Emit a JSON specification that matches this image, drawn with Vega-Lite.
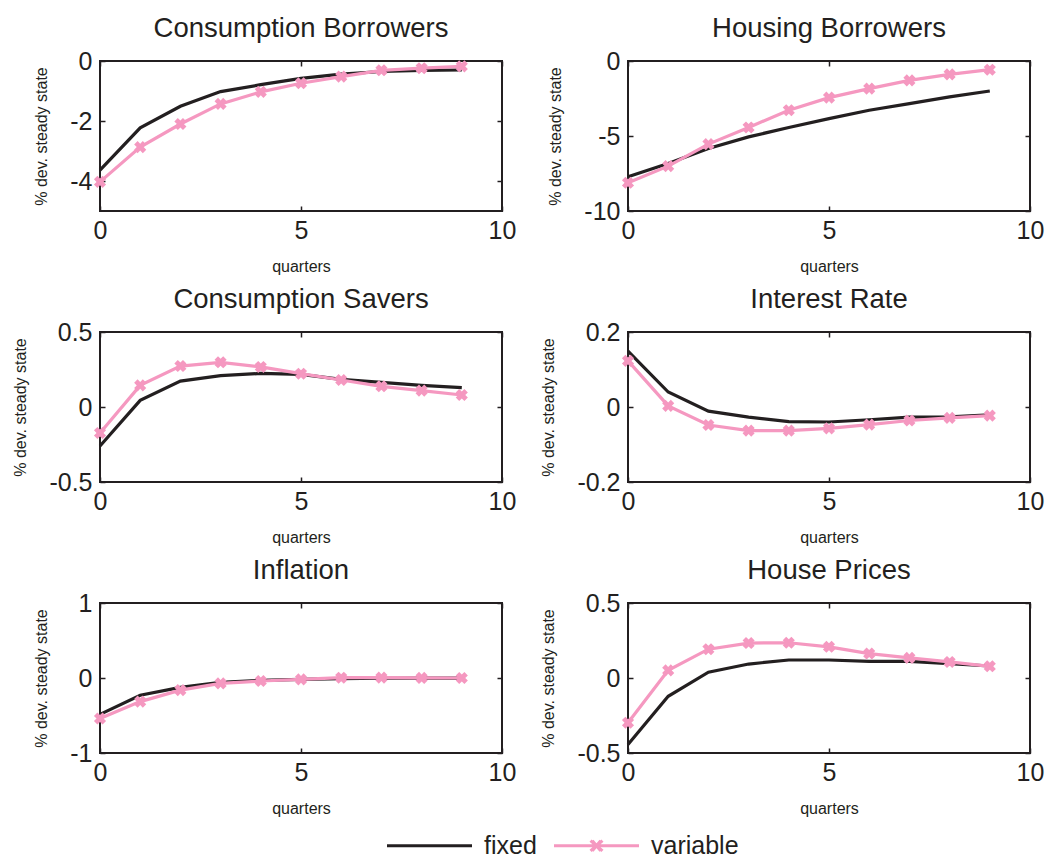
{
  "$schema": "https://vega.github.io/schema/vega-lite/v6.json",
  "padding": {"left": 11, "top": 13, "right": 0, "bottom": 0},
  "background": "white",
  "data": {"values": [
    {"p":"cb","s":"fixed","q":0,"v":-3.64},{"p":"cb","s":"fixed","q":1,"v":-2.23},{"p":"cb","s":"fixed","q":2,"v":-1.51},{"p":"cb","s":"fixed","q":3,"v":-1.02},{"p":"cb","s":"fixed","q":4,"v":-0.79},{"p":"cb","s":"fixed","q":5,"v":-0.58},{"p":"cb","s":"fixed","q":6,"v":-0.44},{"p":"cb","s":"fixed","q":7,"v":-0.35},{"p":"cb","s":"fixed","q":8,"v":-0.31},{"p":"cb","s":"fixed","q":9,"v":-0.30},
    {"p":"cb","s":"variable","q":0,"v":-4.03},{"p":"cb","s":"variable","q":1,"v":-2.87},{"p":"cb","s":"variable","q":2,"v":-2.10},{"p":"cb","s":"variable","q":3,"v":-1.43},{"p":"cb","s":"variable","q":4,"v":-1.03},{"p":"cb","s":"variable","q":5,"v":-0.74},{"p":"cb","s":"variable","q":6,"v":-0.52},{"p":"cb","s":"variable","q":7,"v":-0.31},{"p":"cb","s":"variable","q":8,"v":-0.24},{"p":"cb","s":"variable","q":9,"v":-0.18},
    {"p":"hb","s":"fixed","q":0,"v":-7.72},{"p":"hb","s":"fixed","q":1,"v":-6.83},{"p":"hb","s":"fixed","q":2,"v":-5.83},{"p":"hb","s":"fixed","q":3,"v":-5.06},{"p":"hb","s":"fixed","q":4,"v":-4.43},{"p":"hb","s":"fixed","q":5,"v":-3.84},{"p":"hb","s":"fixed","q":6,"v":-3.28},{"p":"hb","s":"fixed","q":7,"v":-2.84},{"p":"hb","s":"fixed","q":8,"v":-2.39},{"p":"hb","s":"fixed","q":9,"v":-2.00},
    {"p":"hb","s":"variable","q":0,"v":-8.12},{"p":"hb","s":"variable","q":1,"v":-7.01},{"p":"hb","s":"variable","q":2,"v":-5.54},{"p":"hb","s":"variable","q":3,"v":-4.43},{"p":"hb","s":"variable","q":4,"v":-3.28},{"p":"hb","s":"variable","q":5,"v":-2.44},{"p":"hb","s":"variable","q":6,"v":-1.84},{"p":"hb","s":"variable","q":7,"v":-1.29},{"p":"hb","s":"variable","q":8,"v":-0.89},{"p":"hb","s":"variable","q":9,"v":-0.58},
    {"p":"cs","s":"fixed","q":0,"v":-0.26},{"p":"cs","s":"fixed","q":1,"v":0.044},{"p":"cs","s":"fixed","q":2,"v":0.173},{"p":"cs","s":"fixed","q":3,"v":0.209},{"p":"cs","s":"fixed","q":4,"v":0.224},{"p":"cs","s":"fixed","q":5,"v":0.218},{"p":"cs","s":"fixed","q":6,"v":0.184},{"p":"cs","s":"fixed","q":7,"v":0.164},{"p":"cs","s":"fixed","q":8,"v":0.144},{"p":"cs","s":"fixed","q":9,"v":0.129},
    {"p":"cs","s":"variable","q":0,"v":-0.173},{"p":"cs","s":"variable","q":1,"v":0.144},{"p":"cs","s":"variable","q":2,"v":0.273},{"p":"cs","s":"variable","q":3,"v":0.298},{"p":"cs","s":"variable","q":4,"v":0.267},{"p":"cs","s":"variable","q":5,"v":0.222},{"p":"cs","s":"variable","q":6,"v":0.18},{"p":"cs","s":"variable","q":7,"v":0.138},{"p":"cs","s":"variable","q":8,"v":0.109},{"p":"cs","s":"variable","q":9,"v":0.08},
    {"p":"ir","s":"fixed","q":0,"v":0.149},{"p":"ir","s":"fixed","q":1,"v":0.040},{"p":"ir","s":"fixed","q":2,"v":-0.011},{"p":"ir","s":"fixed","q":3,"v":-0.027},{"p":"ir","s":"fixed","q":4,"v":-0.039},{"p":"ir","s":"fixed","q":5,"v":-0.040},{"p":"ir","s":"fixed","q":6,"v":-0.034},{"p":"ir","s":"fixed","q":7,"v":-0.027},{"p":"ir","s":"fixed","q":8,"v":-0.026},{"p":"ir","s":"fixed","q":9,"v":-0.021},
    {"p":"ir","s":"variable","q":0,"v":0.123},{"p":"ir","s":"variable","q":1,"v":0.003},{"p":"ir","s":"variable","q":2,"v":-0.048},{"p":"ir","s":"variable","q":3,"v":-0.063},{"p":"ir","s":"variable","q":4,"v":-0.063},{"p":"ir","s":"variable","q":5,"v":-0.057},{"p":"ir","s":"variable","q":6,"v":-0.047},{"p":"ir","s":"variable","q":7,"v":-0.036},{"p":"ir","s":"variable","q":8,"v":-0.029},{"p":"ir","s":"variable","q":9,"v":-0.023},
    {"p":"in","s":"fixed","q":0,"v":-0.485},{"p":"in","s":"fixed","q":1,"v":-0.23},{"p":"in","s":"fixed","q":2,"v":-0.126},{"p":"in","s":"fixed","q":3,"v":-0.058},{"p":"in","s":"fixed","q":4,"v":-0.031},{"p":"in","s":"fixed","q":5,"v":-0.018},{"p":"in","s":"fixed","q":6,"v":-0.009},{"p":"in","s":"fixed","q":7,"v":-0.003},{"p":"in","s":"fixed","q":8,"v":-0.002},{"p":"in","s":"fixed","q":9,"v":-0.001},
    {"p":"in","s":"variable","q":0,"v":-0.54},{"p":"in","s":"variable","q":1,"v":-0.315},{"p":"in","s":"variable","q":2,"v":-0.162},{"p":"in","s":"variable","q":3,"v":-0.072},{"p":"in","s":"variable","q":4,"v":-0.04},{"p":"in","s":"variable","q":5,"v":-0.018},{"p":"in","s":"variable","q":6,"v":0.004},{"p":"in","s":"variable","q":7,"v":0.005},{"p":"in","s":"variable","q":8,"v":0.001},{"p":"in","s":"variable","q":9,"v":0.0},
    {"p":"hp","s":"fixed","q":0,"v":-0.444},{"p":"hp","s":"fixed","q":1,"v":-0.122},{"p":"hp","s":"fixed","q":2,"v":0.039},{"p":"hp","s":"fixed","q":3,"v":0.093},{"p":"hp","s":"fixed","q":4,"v":0.12},{"p":"hp","s":"fixed","q":5,"v":0.12},{"p":"hp","s":"fixed","q":6,"v":0.111},{"p":"hp","s":"fixed","q":7,"v":0.111},{"p":"hp","s":"fixed","q":8,"v":0.096},{"p":"hp","s":"fixed","q":9,"v":0.08},
    {"p":"hp","s":"variable","q":0,"v":-0.298},{"p":"hp","s":"variable","q":1,"v":0.051},{"p":"hp","s":"variable","q":2,"v":0.192},{"p":"hp","s":"variable","q":3,"v":0.233},{"p":"hp","s":"variable","q":4,"v":0.235},{"p":"hp","s":"variable","q":5,"v":0.208},{"p":"hp","s":"variable","q":6,"v":0.163},{"p":"hp","s":"variable","q":7,"v":0.134},{"p":"hp","s":"variable","q":8,"v":0.107},{"p":"hp","s":"variable","q":9,"v":0.078}
  ]},
  "columns": 2,
  "spacing": {"row": 9, "column": 22},
  "concat": [
    {
      "title": "Consumption Borrowers", "width": 402, "height": 150,
      "transform": [{"filter": "datum.p === 'cb'"}],
      "layer": [
        {"mark": {"type": "line", "strokeWidth": 3.2},
         "encoding": {
           "x": {"field": "q", "type": "quantitative", "scale": {"domain": [0, 10]}, "axis": {"values": [0, 5, 10], "title": "quarters"}},
           "y": {"field": "v", "type": "quantitative", "scale": {"domain": [-5, 0]}, "axis": {"values": [-4, -2, 0], "title": "% dev. steady state"}},
           "color": {"field": "s", "type": "nominal", "scale": {"domain": ["fixed", "variable"], "range": ["#231f20", "#f598c0"]},
             "legend": {"orient": "none", "legendX": 285, "legendY": 740, "direction": "horizontal", "title": null, "padding": 0, "labelFontSize": 25, "labelFont": "Liberation Sans", "labelColor": "#231f20", "symbolStrokeWidth": 3.2, "symbolSize": 7225, "labelOffset": 10, "columnPadding": 10, "symbolType": "stroke",
               "encode": {"symbols": {"update": {"shape": {"signal": "datum.value === 'variable' ? 'M-1,0H1M-0.14,-0.12L0.14,0.12M-0.14,0.12L0.14,-0.12M-0.1,-0.12L0.1,0.12M-0.1,0.12L0.1,-0.12' : 'M-1,0H1'"}}}}}}
         }},
        {"transform": [{"filter": "datum.s === 'variable'"}],
         "mark": {"type": "point", "shape": "cross", "angle": 45, "filled": true, "size": 150, "color": "#f598c0", "opacity": 1},
         "encoding": {
           "x": {"field": "q", "type": "quantitative", "scale": {"domain": [0, 10]}, "axis": {"orient": "top", "values": [0, 5, 10], "labels": false, "title": null}},
           "y": {"field": "v", "type": "quantitative", "scale": {"domain": [-5, 0]}, "axis": {"orient": "right", "values": [-4, -2, 0], "labels": false, "title": null}}
         }}
      ],
      "resolve": {"axis": {"x": "independent", "y": "independent"}}
    },
    {
      "title": "Housing Borrowers", "width": 402, "height": 150,
      "transform": [{"filter": "datum.p === 'hb'"}],
      "layer": [
        {"mark": {"type": "line", "strokeWidth": 3.2},
         "encoding": {
           "x": {"field": "q", "type": "quantitative", "scale": {"domain": [0, 10]}, "axis": {"values": [0, 5, 10], "title": "quarters"}},
           "y": {"field": "v", "type": "quantitative", "scale": {"domain": [-10, 0]}, "axis": {"values": [-10, -5, 0], "title": "% dev. steady state"}},
           "color": {"field": "s", "type": "nominal"}
         }},
        {"transform": [{"filter": "datum.s === 'variable'"}],
         "mark": {"type": "point", "shape": "cross", "angle": 45, "filled": true, "size": 150, "color": "#f598c0", "opacity": 1},
         "encoding": {
           "x": {"field": "q", "type": "quantitative", "scale": {"domain": [0, 10]}, "axis": {"orient": "top", "values": [0, 5, 10], "labels": false, "title": null}},
           "y": {"field": "v", "type": "quantitative", "scale": {"domain": [-10, 0]}, "axis": {"orient": "right", "values": [-10, -5, 0], "labels": false, "title": null}}
         }}
      ],
      "resolve": {"axis": {"x": "independent", "y": "independent"}}
    },
    {
      "title": "Consumption Savers", "width": 402, "height": 150,
      "transform": [{"filter": "datum.p === 'cs'"}],
      "layer": [
        {"mark": {"type": "line", "strokeWidth": 3.2},
         "encoding": {
           "x": {"field": "q", "type": "quantitative", "scale": {"domain": [0, 10]}, "axis": {"values": [0, 5, 10], "title": "quarters"}},
           "y": {"field": "v", "type": "quantitative", "scale": {"domain": [-0.5, 0.5]}, "axis": {"values": [-0.5, 0, 0.5], "title": "% dev. steady state"}},
           "color": {"field": "s", "type": "nominal"}
         }},
        {"transform": [{"filter": "datum.s === 'variable'"}],
         "mark": {"type": "point", "shape": "cross", "angle": 45, "filled": true, "size": 150, "color": "#f598c0", "opacity": 1},
         "encoding": {
           "x": {"field": "q", "type": "quantitative", "scale": {"domain": [0, 10]}, "axis": {"orient": "top", "values": [0, 5, 10], "labels": false, "title": null}},
           "y": {"field": "v", "type": "quantitative", "scale": {"domain": [-0.5, 0.5]}, "axis": {"orient": "right", "values": [-0.5, 0, 0.5], "labels": false, "title": null}}
         }}
      ],
      "resolve": {"axis": {"x": "independent", "y": "independent"}}
    },
    {
      "title": "Interest Rate", "width": 402, "height": 150,
      "transform": [{"filter": "datum.p === 'ir'"}],
      "layer": [
        {"mark": {"type": "line", "strokeWidth": 3.2},
         "encoding": {
           "x": {"field": "q", "type": "quantitative", "scale": {"domain": [0, 10]}, "axis": {"values": [0, 5, 10], "title": "quarters"}},
           "y": {"field": "v", "type": "quantitative", "scale": {"domain": [-0.2, 0.2]}, "axis": {"values": [-0.2, 0, 0.2], "title": "% dev. steady state"}},
           "color": {"field": "s", "type": "nominal"}
         }},
        {"transform": [{"filter": "datum.s === 'variable'"}],
         "mark": {"type": "point", "shape": "cross", "angle": 45, "filled": true, "size": 150, "color": "#f598c0", "opacity": 1},
         "encoding": {
           "x": {"field": "q", "type": "quantitative", "scale": {"domain": [0, 10]}, "axis": {"orient": "top", "values": [0, 5, 10], "labels": false, "title": null}},
           "y": {"field": "v", "type": "quantitative", "scale": {"domain": [-0.2, 0.2]}, "axis": {"orient": "right", "values": [-0.2, 0, 0.2], "labels": false, "title": null}}
         }}
      ],
      "resolve": {"axis": {"x": "independent", "y": "independent"}}
    },
    {
      "title": "Inflation", "width": 402, "height": 150,
      "transform": [{"filter": "datum.p === 'in'"}],
      "layer": [
        {"mark": {"type": "line", "strokeWidth": 3.2},
         "encoding": {
           "x": {"field": "q", "type": "quantitative", "scale": {"domain": [0, 10]}, "axis": {"values": [0, 5, 10], "title": "quarters"}},
           "y": {"field": "v", "type": "quantitative", "scale": {"domain": [-1, 1]}, "axis": {"values": [-1, 0, 1], "title": "% dev. steady state"}},
           "color": {"field": "s", "type": "nominal"}
         }},
        {"transform": [{"filter": "datum.s === 'variable'"}],
         "mark": {"type": "point", "shape": "cross", "angle": 45, "filled": true, "size": 150, "color": "#f598c0", "opacity": 1},
         "encoding": {
           "x": {"field": "q", "type": "quantitative", "scale": {"domain": [0, 10]}, "axis": {"orient": "top", "values": [0, 5, 10], "labels": false, "title": null}},
           "y": {"field": "v", "type": "quantitative", "scale": {"domain": [-1, 1]}, "axis": {"orient": "right", "values": [-1, 0, 1], "labels": false, "title": null}}
         }}
      ],
      "resolve": {"axis": {"x": "independent", "y": "independent"}}
    },
    {
      "title": "House Prices", "width": 402, "height": 150,
      "transform": [{"filter": "datum.p === 'hp'"}],
      "layer": [
        {"mark": {"type": "line", "strokeWidth": 3.2},
         "encoding": {
           "x": {"field": "q", "type": "quantitative", "scale": {"domain": [0, 10]}, "axis": {"values": [0, 5, 10], "title": "quarters"}},
           "y": {"field": "v", "type": "quantitative", "scale": {"domain": [-0.5, 0.5]}, "axis": {"values": [-0.5, 0, 0.5], "title": "% dev. steady state"}},
           "color": {"field": "s", "type": "nominal"}
         }},
        {"transform": [{"filter": "datum.s === 'variable'"}],
         "mark": {"type": "point", "shape": "cross", "angle": 45, "filled": true, "size": 150, "color": "#f598c0", "opacity": 1},
         "encoding": {
           "x": {"field": "q", "type": "quantitative", "scale": {"domain": [0, 10]}, "axis": {"orient": "top", "values": [0, 5, 10], "labels": false, "title": null}},
           "y": {"field": "v", "type": "quantitative", "scale": {"domain": [-0.5, 0.5]}, "axis": {"orient": "right", "values": [-0.5, 0, 0.5], "labels": false, "title": null}}
         }}
      ],
      "resolve": {"axis": {"x": "independent", "y": "independent"}}
    }
  ],
  "config": {
    "font": "Liberation Sans",
    "view": {"stroke": "#231f20", "strokeWidth": 2},
    "axis": {"domain": false, "grid": false, "tickColor": "#231f20", "tickSize": -5, "tickWidth": 1.5, "labelFont": "Liberation Sans", "labelFontSize": 25, "labelColor": "#231f20", "labelOverlap": false, "labelFlush": false, "titleFont": "Liberation Sans", "titleFontSize": 16, "titleFontWeight": "normal", "titleColor": "#231f20"},
    "axisX": {"labelPadding": 12, "titlePadding": 15, "labelExpr": "replace(format(datum.value, '~r'), '\u2212', '-')"},
    "axisY": {"labelPadding": 13, "titlePadding": 20, "labelExpr": "replace(format(datum.value, '~r'), '\u2212', '-')"},
    "title": {"fontSize": 27.5, "fontWeight": "normal", "color": "#231f20", "font": "Liberation Sans", "offset": 7, "anchor": "middle", "baseline": "alphabetic"}
  }
}
